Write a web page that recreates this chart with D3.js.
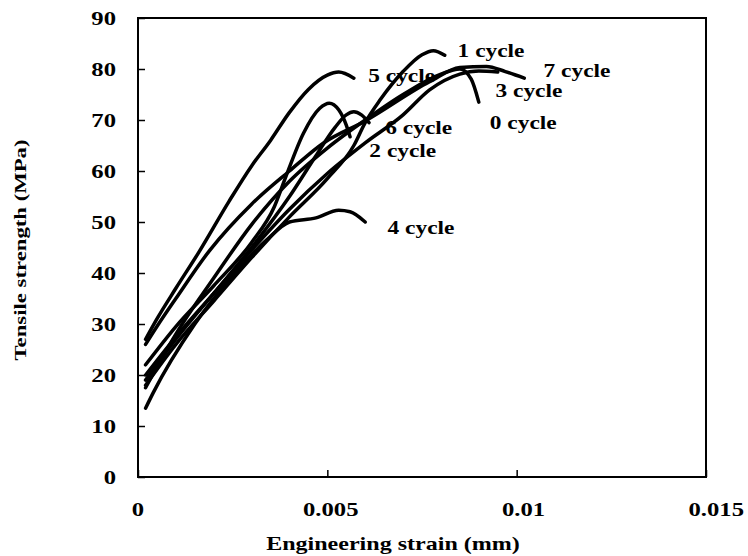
<!DOCTYPE html>
<html lang="en">
<head>
    <meta charset="UTF-8">
    <title>Tensile strength vs engineering strain</title>
    <script src="https://d3js.org/d3.v7.min.js"></script>
    <style>
        body {
            margin: 0;
            background: #fff;
        }
        text {
            font-family: "Liberation Serif", "Times New Roman", serif;
            font-weight: bold;
            fill: #000;
        }
    </style>
</head>
<body>
    <div class="chart"></div>

    <script>
        // Curves: [strain, tensile strength MPa]
        const cycle0 = [[0.0002, 17.5], [0.001, 28], [0.002, 39], [0.003, 49.5], [0.004, 58], [0.005, 64.5],
            [0.006, 70], [0.007, 75], [0.008, 79], [0.0085, 80], [0.0088, 78], [0.009, 73.5]];
        const cycle1 = [[0.0002, 18], [0.001, 26], [0.002, 34.5], [0.003, 43], [0.004, 51], [0.005, 58.5],
            [0.0057, 65], [0.006, 69.5], [0.0064, 74], [0.007, 79.5], [0.0075, 82.8], [0.0078, 83.6], [0.0081, 82.7]];
        const cycle2 = [[0.0002, 22], [0.001, 29.5], [0.002, 37.5], [0.003, 46], [0.0036, 53], [0.0039, 58.8],
            [0.00437, 67.4], [0.0048, 72.3], [0.00505, 73.3], [0.0053, 72], [0.0055, 69], [0.0056, 66.7]];
        const cycle3 = [[0.0002, 20], [0.001, 27.5], [0.002, 36], [0.003, 44.5], [0.004, 52.5], [0.005, 59.5],
            [0.006, 65.5], [0.007, 71], [0.0077, 75.9], [0.0085, 79], [0.009, 79.6], [0.0095, 79.4]];
        const cycle4 = [[0.0002, 13.5], [0.0004, 16.5], [0.0015, 30], [0.0025, 39.5], [0.0034, 46.5], [0.004, 50],
            [0.0047, 50.8], [0.0053, 52.3], [0.0056, 52], [0.006, 50]];
        const cycle5 = [[0.0002, 27], [0.0005, 31], [0.001, 37], [0.0016, 44], [0.0024, 54], [0.003, 61],
            [0.0035, 66], [0.004, 71.5], [0.0045, 76], [0.005, 78.8], [0.0053, 79.4], [0.0057, 78.2]];
        const cycle6 = [[0.0002, 19], [0.001, 27], [0.002, 36], [0.003, 45], [0.004, 55], [0.0047, 63],
            [0.0052, 68.5], [0.0055, 71], [0.0057, 71.6], [0.0059, 71], [0.0061, 69.5]];
        const cycle7 = [[0.0002, 26], [0.0005, 29.5], [0.001, 35], [0.0019, 44.5], [0.003, 53.5], [0.004, 60],
            [0.0049, 65.5], [0.006, 69.8], [0.0077, 77.5], [0.0085, 80.3], [0.0092, 80.5], [0.0097, 79.5], [0.0102, 78.2]];

        const series = [cycle0, cycle1, cycle2, cycle3, cycle4, cycle5, cycle6, cycle7];
        const seriesNames = ["0 cycle", "1 cycle", "2 cycle", "3 cycle", "4 cycle", "5 cycle", "6 cycle", "7 cycle"];
        // where each curve label sits (left edge, middle), in data units
        const labelStrain = [0.00929, 0.00844, 0.00611, 0.00944, 0.00659, 0.00608, 0.00653, 0.01071];
        const labelStress = [69.4, 83.5, 63.9, 75.7, 48.8, 78.6, 68.4, 79.6];

        const xTicks = [0, 0.005, 0.01, 0.015];
        const xTickLabels = ["0", "0.005", "0.01", "0.015"];
        const yTicks = [0, 10, 20, 30, 40, 50, 60, 70, 80, 90];

        const width = 748, height = 556;
        const margin = { top: 18, right: 42, bottom: 79, left: 138 };
        const plotW = width - margin.left - margin.right;
        const plotH = height - margin.top - margin.bottom;
        const stretch = 1.3; // the text in the picture is wide

        const svg = d3.select(".chart")
            .append("svg")
            .attr("width", width)
            .attr("height", height);

        const g = svg.append("g")
            .attr("transform", `translate(${margin.left},${margin.top})`);

        const xScale = d3.scaleLinear().domain([0, 0.015]).range([0, plotW]);
        const yScale = d3.scaleLinear().domain([0, 90]).range([plotH, 0]);

        // wide text helper
        function wideText(parent, x, y, str, size, anchor, rot) {
            return parent.append("text")
                .attr("transform", `translate(${x},${y}) rotate(${rot || 0}) scale(${stretch},1)`)
                .attr("text-anchor", anchor)
                .attr("dy", "0.35em")
                .style("font-size", size + "px")
                .text(str);
        }

        // Axes with inward ticks
        const xAxis = g.append("g")
            .attr("transform", `translate(0,${plotH})`)
            .call(d3.axisBottom(xScale).tickValues(xTicks).tickSize(-7).tickFormat(""));
        const yAxis = g.append("g")
            .call(d3.axisLeft(yScale).tickValues(yTicks).tickSize(-7).tickFormat(""));
        [xAxis, yAxis].forEach(a => {
            a.select(".domain").remove();
            a.selectAll("line").attr("stroke", "#000").attr("stroke-width", 1.5);
        });

        // frame
        g.append("rect")
            .attr("width", plotW)
            .attr("height", plotH)
            .attr("fill", "none")
            .attr("stroke", "#000")
            .attr("stroke-width", 2);

        // tick labels
        xTicks.forEach((v, i) => {
            const px = xScale(v);
            wideText(g, px + px * 0.018, plotH + 32, xTickLabels[i], 19, "middle");
        });
        yTicks.forEach(v => {
            wideText(g, -22, yScale(v), String(v), 19, "end");
        });

        // curves
        const line = d3.line()
            .x(d => xScale(d[0]))
            .y(d => yScale(d[1]))
            .curve(d3.curveMonotoneX);

        g.selectAll(".curve")
            .data(series)
            .join("path")
            .attr("class", "curve")
            .attr("fill", "none")
            .attr("stroke", "#000")
            .attr("stroke-width", 3.5)
            .attr("stroke-linecap", "round")
            .attr("stroke-linejoin", "round")
            .attr("d", line);

        // curve labels
        seriesNames.forEach((name, i) => {
            wideText(g, xScale(labelStrain[i]), yScale(labelStress[i]), name, 18, "start");
        });

        // axis titles
        wideText(svg, 393, 544, "Engineering strain (mm)", 18.5, "middle");
        wideText(svg, 20, 250, "Tensile strength (MPa)", 17.5, "middle", -90);
    </script>
</body>
</html>
